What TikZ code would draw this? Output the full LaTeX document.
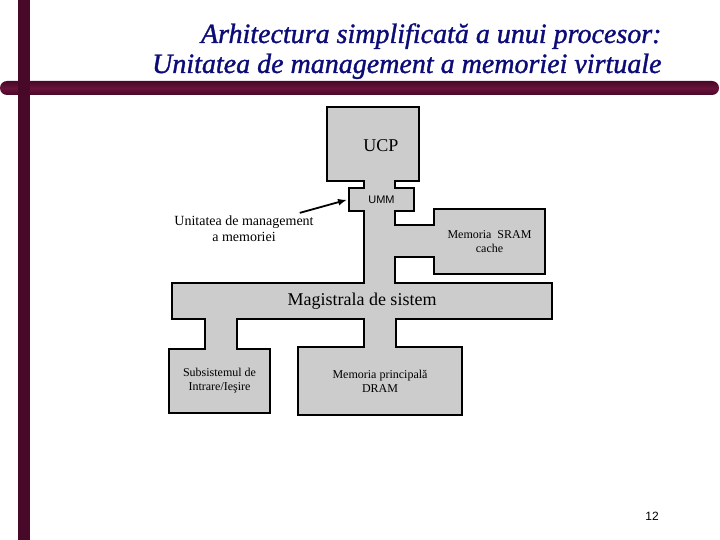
\documentclass[tikz,border=0pt]{standalone}
\usepackage{fontspec}
\setmainfont{Liberation Serif}
\newfontfamily\sansfnt{Liberation Sans}
\newfontfamily\titlefnt[FakeBold=1.2]{Liberation Serif Italic}
\usetikzlibrary{arrows.meta}

\definecolor{boxgray}{RGB}{204,204,204}
\definecolor{barmaroon}{RGB}{72,8,40}
\definecolor{barlight}{RGB}{104,20,58}
\definecolor{titleblue}{RGB}{12,12,120}

\begin{document}
\begin{tikzpicture}[x=1pt,y=-1pt,
    blk/.style={draw,fill=boxgray,line width=2pt,inner sep=0pt,align=center},
    stem/.style={line width=2pt,line cap=rect,line join=miter},
    ptr/.style={-{Latex[length=9pt,width=7pt]},line width=1.8pt,shorten >=1pt}]
    \useasboundingbox (0,0) rectangle (720,540);
    % frame bars
    \shade[top color=barmaroon,bottom color=barmaroon,middle color=barlight,
        rounded corners=7pt] (0,81) rectangle (719,95);
    \fill[barmaroon] (18,0) rectangle (30,540);
    \node[anchor=base east,text=titleblue,font=\fontsize{28}{30}\selectfont\titlefnt]
        (title1) at (665,43) {Arhitectura simplificată a unui procesor:};
    \node[anchor=base east,text=titleblue,font=\fontsize{28}{30}\selectfont\titlefnt]
        (title2) at (665,73) {Unitatea de management a memoriei virtuale};
    % blocks
    \node[blk,minimum width=92pt,minimum height=74pt] (ucp) at (373,144) {};
    \node[font=\fontsize{18}{20}\selectfont] (ucptxt) at (381,146) {UCP};
    \node[blk,minimum width=65pt,minimum height=23pt,font=\sansfnt\fontsize{11}{12}\selectfont]
        (umm) at (381.5,199.5) {UMM};
    \node[blk,minimum width=111pt,minimum height=65pt,font=\fontsize{12}{14}\selectfont]
        (sram) at (489.5,241.5) {Memoria~~SRAM\\cache};
    \node[blk,minimum width=380pt,minimum height=36pt,font=\fontsize{18}{20}\selectfont]
        (bus) at (362,301) {Magistrala de sistem};
    \node[blk,minimum width=101pt,minimum height=64pt,font=\fontsize{12}{14}\selectfont]
        (io) at (219.5,381) {Subsistemul de\\Intrare/Ieşire};
    \node[blk,minimum width=164pt,minimum height=68pt,font=\fontsize{12}{14}\selectfont]
        (dram) at (380,381) {Memoria principală\\DRAM};
    % stems joining the blocks
    \fill[boxgray] (364,179.8) rectangle (395,189.2);
    \fill[boxgray] (364,209.8) rectangle (395,284.2);
    \fill[boxgray] (394,225) rectangle (435.2,257);
    \draw[stem] (364,181) -- (364,188) (395,181) -- (395,188);
    \draw[stem] (364,211) -- (364,283);
    \draw[stem] (395,211) -- (395,225) -- (434,225);
    \draw[stem] (434,257) -- (395,257) -- (395,283);
    \foreach \a/\b/\t/\u in {205/237/319/349,364/396/319/347} {
        \fill[boxgray] (\a,\t-1.2) rectangle (\b,\u+1.2);
        \draw[stem] (\a,\t) -- (\a,\u) (\b,\t) -- (\b,\u);
    }
    % label of the mmu
    \node[align=center,inner sep=0pt,font=\fontsize{14}{16}\selectfont]
        (lbl) at (244,229) {Unitatea de management\\a memoriei};
    \draw[ptr] ([xshift=-14pt,yshift=3pt]lbl.north east) -- (umm.west);
    \node[font=\sansfnt\fontsize{12}{14}\selectfont] (page) at (652,516) {12};
\end{tikzpicture}
\end{document}
